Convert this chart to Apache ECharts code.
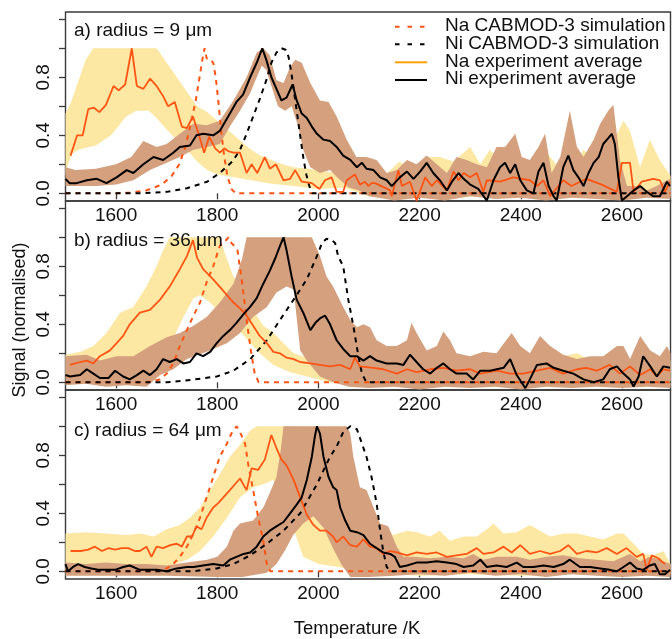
<!DOCTYPE html>
<html><head><meta charset="utf-8">
<script src="https://cdn.jsdelivr.net/npm/echarts@6/dist/echarts.min.js"></script>
<style>html,body{margin:0;padding:0;background:#fff}#c{width:672px;height:639px}</style>
</head><body><div id="c"></div>
<script>
// ---------- tick labels ----------
const xTicks = [1600, 1800, 2000, 2200, 2400, 2600];
const yTicks = [0, 0.2, 0.4, 0.6, 0.8, 1.0, 1.2];
const yLabels = [0, 0.4, 0.8];
const panelTitles = ["a) radius = 9 μm", "b) radius = 36 μm", "c) radius = 64 μm"];
const legendNames = ["Na CABMOD-3 simulation", "Ni CABMOD-3 simulation", "Na experiment average", "Ni experiment average"];

// ---------- panel a (9 µm) ----------
const naSimA = [[1500,0],[1600,0],[1630,0.005],[1660,0.02],[1690,0.06],[1710,0.12],[1725,0.2],[1737,0.32],[1747,0.47],[1757,0.63],[1765,0.8],[1771,0.93],[1775,1.0],[1779,0.93],[1785,0.93],[1792,0.9],[1797,0.8],[1802,0.64],[1808,0.42],[1814,0.25],[1820,0.12],[1828,0.03],[1836,0],[2696,0]];
const niSimA = [[1500,0],[1650,0],[1700,0.01],[1740,0.035],[1780,0.08],[1805,0.14],[1830,0.22],[1845,0.3],[1858,0.41],[1871,0.53],[1884,0.65],[1897,0.78],[1907,0.9],[1917,0.97],[1927,1.0],[1935,0.99],[1941,0.94],[1947,0.82],[1955,0.62],[1963,0.42],[1970,0.25],[1976,0.13],[1982,0.05],[1988,0],[2696,0]];
const naExpA = [[1510,0.26],[1523,0.40],[1534,0.40],[1545,0.58],[1556,0.59],[1567,0.56],[1580,0.61],[1595,0.74],[1605,0.71],[1618,0.75],[1631,1.0],[1641,0.74],[1654,0.72],[1667,0.79],[1680,0.74],[1693,0.67],[1703,0.6],[1716,0.63],[1730,0.46],[1740,0.45],[1752,0.53],[1763,0.41],[1774,0.28],[1784,0.39],[1796,0.31],[1805,0.28],[1814,0.31],[1822,0.29],[1832,0.28],[1845,0.28],[1858,0.14],[1868,0.2],[1879,0.14],[1894,0.25],[1904,0.17],[1916,0.2],[1931,0.09],[1944,0.1],[1954,0.16],[1967,0.08],[1987,0.07],[2002,0.03],[2013,0.09],[2026,0.11],[2036,0.01],[2049,0.01],[2056,0.09],[2072,0.13],[2082,0.06],[2092,0.08],[2099,0.05],[2105,0.07],[2112,0.07],[2142,0.02],[2145,-0.02],[2158,0.16],[2165,0.05],[2181,0.08],[2194,-0.05],[2211,0.11],[2224,0.05],[2234,0.09],[2254,0.02],[2267,0.15],[2277,0.09],[2287,0.14],[2300,0.11],[2313,0.14],[2326,0.01],[2333,0.09],[2359,0.08],[2385,0.11],[2418,0.09],[2432,0.05],[2445,0.09],[2458,-0.02],[2484,0.09],[2500,0.05],[2530,0.1],[2560,0.06],[2590,0.01],[2600,0.21],[2616,0.21],[2623,0.01],[2639,0.08],[2662,0.1],[2675,0.09],[2685,0.01],[2695,0.08]];
const niExpA = [[1500,0.1],[1508,0.07],[1522,0.07],[1542,0.09],[1562,0.1],[1581,0.07],[1601,0.11],[1621,0.16],[1634,0.14],[1654,0.2],[1674,0.25],[1693,0.23],[1713,0.28],[1726,0.32],[1746,0.33],[1759,0.4],[1772,0.41],[1792,0.4],[1805,0.43],[1825,0.55],[1838,0.63],[1851,0.68],[1865,0.8],[1878,0.9],[1889,1.0],[1897,0.92],[1907,0.8],[1917,0.72],[1927,0.64],[1937,0.66],[1949,0.75],[1957,0.64],[1967,0.55],[1977,0.52],[1987,0.46],[1997,0.41],[2010,0.37],[2023,0.36],[2036,0.32],[2049,0.26],[2063,0.23],[2076,0.18],[2086,0.21],[2095,0.17],[2109,0.16],[2122,0.11],[2135,0.09],[2145,0.05],[2161,0.11],[2175,0.15],[2188,0.1],[2201,0.15],[2214,0.21],[2227,0.14],[2240,0.09],[2254,0.02],[2264,0.08],[2277,0.14],[2287,0.1],[2300,0.06],[2316,0.03],[2333,-0.05],[2346,0.09],[2359,0.18],[2369,0.21],[2379,0.14],[2389,0.2],[2399,0.09],[2412,0.02],[2425,0],[2435,0.15],[2445,0.21],[2455,0.05],[2465,-0.02],[2471,-0.05],[2484,0.18],[2494,0.26],[2504,0.16],[2514,0.11],[2524,0.05],[2534,0.14],[2544,0.21],[2554,0.25],[2563,0.34],[2573,0.38],[2580,0.41],[2586,0.34],[2593,0.11],[2600,-0.05],[2610,-0.02],[2623,0.02],[2636,0.05],[2649,0.01],[2662,-0.02],[2675,-0.02],[2689,0.08],[2695,0.05]];
const naUpA = [[1500,0.55],[1510,0.62],[1520,0.72],[1540,0.92],[1555,1.0],[1680,1.0],[1690,0.95],[1700,0.9],[1720,0.8],[1740,0.7],[1760,0.6],[1780,0.56],[1800,0.5],[1820,0.44],[1840,0.38],[1860,0.32],[1880,0.27],[1900,0.24],[1920,0.21],[1950,0.18],[1980,0.17],[2010,0.15],[2040,0.14],[2060,0.18],[2080,0.12],[2100,0.2],[2130,0.12],[2160,0.22],[2190,0.15],[2210,0.25],[2240,0.25],[2267,0.22],[2300,0.32],[2320,0.2],[2339,0.3],[2360,0.22],[2379,0.25],[2400,0.18],[2418,0.14],[2451,0.28],[2470,0.2],[2484,0.23],[2505,0.18],[2524,0.3],[2540,0.25],[2557,0.34],[2575,0.3],[2603,0.5],[2616,0.43],[2636,0.18],[2655,0.37],[2675,0.23],[2696,0.12]];
const naLoA = [[1500,0.12],[1505,0.2],[1512,0.27],[1525,0.3],[1560,0.33],[1590,0.4],[1620,0.53],[1640,0.57],[1665,0.57],[1680,0.52],[1700,0.44],[1720,0.37],[1740,0.3],[1760,0.22],[1780,0.16],[1800,0.13],[1850,0.1],[1900,0.07],[1950,0.05],[2000,0.03],[2050,0.04],[2100,-0.02],[2200,-0.03],[2300,-0.02],[2400,-0.03],[2500,-0.01],[2600,-0.03],[2696,-0.02]];
const niUpA = [[1500,0.18],[1520,0.16],[1560,0.17],[1600,0.2],[1630,0.25],[1654,0.36],[1680,0.32],[1700,0.34],[1726,0.41],[1753,0.48],[1779,0.47],[1805,0.5],[1832,0.64],[1858,0.8],[1878,0.97],[1891,1.0],[1904,0.95],[1917,0.78],[1931,0.76],[1944,0.87],[1954,0.92],[1967,0.9],[1984,0.76],[2003,0.64],[2020,0.63],[2036,0.53],[2056,0.37],[2075,0.25],[2095,0.25],[2115,0.23],[2135,0.14],[2155,0.16],[2175,0.23],[2194,0.2],[2214,0.26],[2234,0.2],[2254,0.14],[2273,0.25],[2293,0.23],[2313,0.2],[2333,0.18],[2352,0.32],[2369,0.32],[2389,0.41],[2402,0.25],[2418,0.23],[2435,0.32],[2448,0.41],[2461,0.14],[2478,0.25],[2497,0.57],[2511,0.32],[2524,0.25],[2544,0.37],[2557,0.48],[2573,0.57],[2583,0.61],[2596,0.23],[2610,0.05],[2629,0.05],[2649,0.02],[2669,0.05],[2689,0.09],[2696,0.1]];
const niLoA = [[1500,0.05],[1560,0.05],[1600,0.06],[1634,0.09],[1667,0.16],[1700,0.21],[1726,0.25],[1753,0.3],[1779,0.32],[1805,0.34],[1825,0.46],[1845,0.57],[1865,0.69],[1878,0.8],[1888,0.88],[1897,0.85],[1907,0.74],[1920,0.6],[1934,0.57],[1947,0.6],[1960,0.46],[1970,0.3],[1984,0.18],[2003,0.14],[2023,0.16],[2040,0.1],[2060,0.04],[2080,0.02],[2100,-0.02],[2150,-0.05],[2200,-0.03],[2250,-0.05],[2300,-0.02],[2350,-0.04],[2400,-0.03],[2450,-0.05],[2500,-0.03],[2550,-0.04],[2600,-0.05],[2650,-0.03],[2696,-0.04]];

// ---------- panel b (36 µm) ----------
const naSimB = [[1500,0],[1660,0],[1687,0.02],[1700,0.06],[1713,0.13],[1726,0.25],[1740,0.36],[1753,0.46],[1766,0.55],[1779,0.69],[1792,0.8],[1805,0.94],[1815,0.97],[1822,1.0],[1828,0.96],[1834,0.94],[1840,0.91],[1849,0.69],[1858,0.43],[1866,0.23],[1874,0.06],[1882,0],[2696,0]];
const niSimB = [[1500,0],[1700,0],[1733,0.01],[1799,0.04],[1832,0.08],[1865,0.16],[1898,0.29],[1924,0.43],[1951,0.57],[1977,0.71],[1997,0.87],[2007,0.96],[2016,0.99],[2026,0.98],[2033,0.96],[2039,0.87],[2049,0.8],[2059,0.57],[2069,0.39],[2079,0.18],[2086,0.06],[2095,0],[2696,0]];
const naExpB = [[1509,0.12],[1529,0.14],[1542,0.15],[1555,0.13],[1568,0.18],[1588,0.22],[1601,0.27],[1614,0.32],[1627,0.4],[1647,0.48],[1667,0.5],[1687,0.57],[1706,0.66],[1726,0.78],[1740,0.87],[1752,0.98],[1760,0.86],[1772,0.78],[1792,0.71],[1812,0.63],[1832,0.55],[1845,0.51],[1858,0.46],[1871,0.39],[1884,0.32],[1898,0.27],[1911,0.21],[1924,0.2],[1937,0.17],[1951,0.16],[1964,0.14],[1984,0.13],[2003,0.12],[2023,0.11],[2043,0.12],[2063,0.09],[2072,0.17],[2082,0.11],[2109,0.1],[2128,0.09],[2155,0.06],[2175,0.09],[2194,0.07],[2221,0.09],[2247,0.1],[2273,0.08],[2300,0.09],[2320,0.06],[2353,0.08],[2379,0.06],[2405,0.06],[2432,0.08],[2458,0.1],[2484,0.06],[2511,0.09],[2530,0.1],[2550,0.08],[2576,0.12],[2596,0.06],[2616,0.11],[2636,0.05],[2656,0.09],[2669,0.04],[2682,0.09],[2695,0.08]];
const niExpB = [[1500,0.05],[1509,0.04],[1529,0.05],[1542,0.09],[1555,0.06],[1568,0.03],[1585,0.03],[1598,0.08],[1614,0.04],[1627,0.02],[1641,0.05],[1654,0.08],[1667,0.05],[1680,0.09],[1693,0.16],[1706,0.14],[1720,0.16],[1733,0.13],[1746,0.14],[1759,0.2],[1772,0.18],[1786,0.21],[1799,0.27],[1812,0.32],[1825,0.36],[1838,0.41],[1852,0.47],[1865,0.52],[1878,0.58],[1891,0.68],[1904,0.77],[1914,0.85],[1924,0.94],[1931,1.0],[1937,0.91],[1947,0.73],[1957,0.57],[1970,0.48],[1984,0.36],[1994,0.41],[2003,0.44],[2013,0.46],[2023,0.4],[2036,0.29],[2049,0.23],[2063,0.18],[2076,0.18],[2089,0.15],[2102,0.18],[2115,0.15],[2135,0.13],[2155,0.13],[2168,0.12],[2181,0.19],[2194,0.14],[2207,0.09],[2221,0.06],[2234,0.1],[2247,0.13],[2260,0.09],[2273,0.06],[2293,0.06],[2306,0.02],[2320,0.08],[2339,0.08],[2366,0.1],[2379,0.16],[2392,0.05],[2409,-0.04],[2418,0.02],[2432,0.12],[2451,0.13],[2465,0.1],[2484,0.08],[2504,0.06],[2524,0.02],[2544,0],[2563,0.02],[2576,0.09],[2590,0.11],[2603,0.06],[2616,0.02],[2623,-0.03],[2633,0.04],[2642,0.18],[2656,0.11],[2669,0.04],[2682,0.11],[2695,0.1]];
const naUpB = [[1500,0.19],[1530,0.21],[1555,0.25],[1581,0.34],[1608,0.48],[1634,0.52],[1660,0.66],[1680,0.8],[1693,0.91],[1706,1.0],[1805,1.0],[1819,0.85],[1832,0.73],[1852,0.62],[1871,0.5],[1891,0.39],[1911,0.34],[1931,0.27],[1951,0.2],[1970,0.18],[1997,0.15],[2023,0.15],[2060,0.12],[2100,0.12],[2150,0.14],[2200,0.12],[2250,0.15],[2300,0.18],[2330,0.2],[2360,0.15],[2400,0.12],[2450,0.14],[2484,0.18],[2511,0.2],[2540,0.15],[2580,0.12],[2603,0.15],[2620,0.13],[2650,0.12],[2682,0.18],[2696,0.15]];
const naLoB = [[1500,0.05],[1540,0.07],[1568,0.1],[1608,0.12],[1634,0.18],[1667,0.2],[1693,0.23],[1713,0.3],[1733,0.45],[1753,0.58],[1766,0.6],[1786,0.55],[1805,0.48],[1832,0.4],[1858,0.3],[1884,0.2],[1911,0.12],[1944,0.07],[1977,0.04],[2023,0.0],[2100,-0.02],[2200,-0.03],[2300,-0.02],[2400,-0.03],[2500,-0.02],[2600,-0.03],[2696,-0.02]];
const niUpB = [[1500,0.18],[1542,0.19],[1568,0.15],[1601,0.18],[1634,0.18],[1667,0.25],[1700,0.31],[1726,0.34],[1753,0.39],[1779,0.45],[1805,0.55],[1832,0.68],[1849,0.85],[1858,1.0],[1987,1.0],[2003,0.87],[2016,0.73],[2029,0.66],[2049,0.52],[2063,0.43],[2076,0.38],[2089,0.4],[2102,0.38],[2115,0.29],[2135,0.25],[2155,0.25],[2175,0.29],[2184,0.41],[2194,0.34],[2214,0.22],[2234,0.25],[2247,0.35],[2260,0.29],[2273,0.2],[2300,0.18],[2326,0.21],[2352,0.2],[2382,0.34],[2399,0.25],[2418,0.2],[2438,0.32],[2458,0.25],[2484,0.19],[2511,0.16],[2537,0.18],[2563,0.18],[2590,0.25],[2603,0.25],[2616,0.16],[2636,0.32],[2656,0.22],[2675,0.18],[2689,0.25],[2696,0.2]];
const niLoB = [[1500,-0.02],[1540,-0.01],[1580,-0.03],[1620,-0.02],[1660,-0.03],[1687,0.05],[1713,0.09],[1740,0.16],[1779,0.21],[1819,0.27],[1845,0.34],[1871,0.45],[1898,0.52],[1917,0.62],[1937,0.66],[1951,0.64],[1964,0.22],[1977,0.15],[2003,0.04],[2029,0.0],[2060,-0.03],[2100,-0.04],[2150,-0.03],[2200,-0.05],[2250,-0.03],[2300,-0.04],[2350,-0.03],[2400,-0.05],[2450,-0.03],[2500,-0.04],[2550,-0.03],[2600,-0.04],[2650,-0.03],[2696,-0.04]];

// ---------- panel c (64 µm) ----------
const naSimC = [[1500,0],[1680,0],[1700,0.02],[1713,0.05],[1726,0.1],[1740,0.17],[1753,0.26],[1766,0.37],[1779,0.51],[1792,0.65],[1805,0.79],[1819,0.88],[1828,0.95],[1838,1.0],[1845,0.96],[1855,0.88],[1862,0.72],[1871,0.56],[1881,0.37],[1891,0.21],[1898,0.05],[1905,0],[2696,0]];
const niSimC = [[1500,0],[1750,0],[1799,0.02],[1832,0.05],[1865,0.11],[1898,0.19],[1931,0.28],[1964,0.4],[1997,0.6],[2023,0.79],[2036,0.86],[2049,0.96],[2063,1.0],[2076,0.98],[2086,0.88],[2095,0.79],[2105,0.65],[2115,0.47],[2122,0.28],[2128,0.14],[2135,0.03],[2142,0],[2696,0]];
const naExpC = [[1510,0.14],[1530,0.14],[1545,0.15],[1558,0.17],[1572,0.14],[1585,0.16],[1598,0.15],[1611,0.16],[1624,0.16],[1637,0.14],[1647,0.14],[1660,0.17],[1670,0.1],[1680,0.17],[1693,0.16],[1707,0.18],[1720,0.19],[1730,0.17],[1740,0.24],[1750,0.24],[1759,0.31],[1769,0.29],[1779,0.37],[1792,0.44],[1802,0.47],[1812,0.51],[1825,0.56],[1835,0.6],[1845,0.64],[1858,0.56],[1868,0.71],[1881,0.7],[1894,0.77],[1907,0.94],[1917,0.85],[1927,0.77],[1937,0.73],[1951,0.63],[1964,0.51],[1977,0.39],[1990,0.32],[2003,0.28],[2016,0.28],[2029,0.24],[2036,0.2],[2049,0.24],[2063,0.18],[2076,0.17],[2089,0.22],[2102,0.17],[2115,0.16],[2128,0.12],[2142,0.14],[2155,0.13],[2175,0.11],[2194,0.13],[2214,0.12],[2234,0.13],[2254,0.1],[2273,0.11],[2293,0.12],[2313,0.16],[2326,0.12],[2346,0.13],[2366,0.17],[2382,0.13],[2399,0.18],[2418,0.12],[2438,0.14],[2458,0.12],[2478,0.14],[2494,0.18],[2511,0.12],[2530,0.14],[2550,0.13],[2570,0.16],[2590,0.12],[2609,0.16],[2629,0.1],[2642,0.12],[2649,0.01],[2659,0.11],[2672,0.09],[2685,0.05]];
const niExpC = [[1500,0.05],[1505,0.0],[1515,0.03],[1525,0.05],[1538,0.03],[1551,0.02],[1567,0.01],[1581,0.01],[1598,0.01],[1614,0.03],[1627,0.04],[1647,0.01],[1660,0.01],[1680,0.01],[1700,0.0],[1720,0.02],[1740,0.03],[1753,0.03],[1772,0.04],[1792,0.05],[1812,0.04],[1825,0.08],[1838,0.1],[1852,0.12],[1865,0.13],[1878,0.17],[1891,0.24],[1904,0.28],[1917,0.31],[1931,0.34],[1944,0.4],[1957,0.46],[1967,0.51],[1977,0.63],[1987,0.79],[1993,0.93],[1997,1.0],[2003,0.95],[2010,0.79],[2020,0.65],[2029,0.58],[2036,0.56],[2043,0.44],[2053,0.35],[2063,0.28],[2076,0.27],[2089,0.25],[2102,0.19],[2115,0.16],[2128,0.13],[2142,0.12],[2151,0.1],[2161,0.03],[2175,0.04],[2194,0.06],[2214,0.06],[2234,0.07],[2254,0.06],[2273,0.05],[2287,0.03],[2306,0.04],[2320,0.08],[2333,0.03],[2352,0.04],[2372,0.03],[2392,0.06],[2405,0.03],[2425,0.03],[2445,0.04],[2465,0.03],[2484,0.05],[2497,0.08],[2517,0.03],[2537,0.03],[2557,0.02],[2576,0.01],[2590,0.0],[2603,0.03],[2616,0.06],[2629,0.02],[2642,0.01],[2655,0.04],[2665,0.05],[2675,-0.02],[2685,-0.02],[2695,0.01]];
const naUpC = [[1500,0.26],[1540,0.27],[1581,0.26],[1621,0.25],[1647,0.26],[1674,0.24],[1700,0.29],[1726,0.32],[1746,0.37],[1766,0.44],[1786,0.56],[1805,0.67],[1825,0.79],[1845,0.87],[1865,0.97],[1878,1.0],[1960,1.0],[1980,0.7],[2000,0.5],[2030,0.4],[2060,0.36],[2100,0.33],[2130,0.3],[2148,0.25],[2175,0.28],[2194,0.27],[2221,0.24],[2240,0.28],[2260,0.21],[2287,0.24],[2313,0.24],[2333,0.29],[2346,0.33],[2366,0.26],[2392,0.27],[2418,0.32],[2438,0.28],[2458,0.24],[2484,0.26],[2511,0.26],[2537,0.24],[2563,0.22],[2590,0.26],[2603,0.26],[2623,0.19],[2642,0.12],[2662,0.11],[2682,0.14],[2696,0.05]];
const naLoC = [[1500,0.01],[1600,0.01],[1700,0.03],[1740,0.08],[1766,0.14],[1792,0.24],[1819,0.37],[1845,0.51],[1871,0.58],[1891,0.6],[1911,0.63],[1930,0.5],[1950,0.3],[1970,0.1],[2000,0.05],[2040,0.03],[2080,0.0],[2150,-0.02],[2200,-0.03],[2300,-0.02],[2400,-0.03],[2500,-0.02],[2600,-0.03],[2696,-0.02]];
const niUpC = [[1500,0.06],[1540,0.05],[1580,0.06],[1620,0.05],[1660,0.05],[1700,0.04],[1740,0.06],[1780,0.08],[1800,0.1],[1819,0.17],[1832,0.28],[1845,0.33],[1871,0.35],[1891,0.44],[1905,0.55],[1917,0.65],[1926,0.85],[1931,1.0],[2056,1.0],[2063,0.95],[2069,0.79],[2082,0.58],[2095,0.56],[2109,0.44],[2122,0.33],[2138,0.31],[2155,0.17],[2168,0.1],[2188,0.1],[2221,0.09],[2254,0.1],[2287,0.09],[2306,0.12],[2326,0.08],[2352,0.1],[2392,0.1],[2418,0.08],[2451,0.1],[2484,0.11],[2517,0.09],[2550,0.08],[2583,0.07],[2603,0.1],[2616,0.12],[2636,0.07],[2655,0.1],[2675,0.08],[2696,0.05]];
const niLoC = [[1500,-0.03],[1600,-0.03],[1700,-0.03],[1800,-0.04],[1850,-0.04],[1898,-0.01],[1917,0.05],[1935,0.15],[1950,0.25],[1970,0.33],[1990,0.38],[2010,0.3],[2030,0.15],[2045,0.05],[2063,-0.04],[2100,-0.04],[2150,-0.03],[2200,-0.02],[2250,-0.03],[2300,-0.01],[2350,-0.03],[2400,-0.02],[2450,-0.04],[2500,-0.02],[2550,-0.03],[2600,-0.04],[2650,-0.03],[2696,-0.04]];

// ---------- styling ----------
const FONT = "'Liberation Sans', Arial, Helvetica, sans-serif";
const C_NA = '#FF5514', C_NA_LEG = '#FFA000', C_NI = '#000000';
const C_YEL = '#FCE8A3', C_BRN = '#D4A07E', C_BOX = '#3a3a3a', C_TXT = '#111';
const panels = [
  {top: 12,  naSim: naSimA, niSim: niSimA, naExp: naExpA, niExp: niExpA, naUp: naUpA, naLo: naLoA, niUp: niUpA, niLo: niLoA, labelY: 32},
  {top: 201, naSim: naSimB, niSim: niSimB, naExp: naExpB, niExp: niExpB, naUp: naUpB, naLo: naLoB, niUp: niUpB, niLo: niLoB, labelY: 242},
  {top: 390, naSim: naSimC, niSim: niSimC, naExp: naExpC, niExp: niExpC, naUp: naUpC, naLo: naLoC, niUp: niUpC, niLo: niLoC, labelY: 432}
];
const GL = 65.5, GW = 605, GH = 189;

function band(idx, up, lo, color, z) {
  const poly = up.concat(lo.slice().reverse());
  return {
    type: 'custom', xAxisIndex: idx, yAxisIndex: idx, z: z, silent: true,
    data: poly,
    renderItem: function (params, api) {
      if (params.dataIndex !== 0) return null;
      const pts = poly.map(p => api.coord(p));
      return {type: 'polygon', shape: {points: pts}, style: {fill: color, stroke: null}};
    }
  };
}
function line(idx, data, color, width, dashed, z) {
  return {
    type: 'line', xAxisIndex: idx, yAxisIndex: idx, data: data, z: z,
    showSymbol: false, symbol: 'none', silent: true,
    lineStyle: {color: color, width: width, type: dashed ? [5, 5] : 'solid'}
  };
}

const grids = [], xAxes = [], yAxes = [], series = [], graphics = [];
panels.forEach((p, i) => {
  grids.push({left: GL, top: p.top, width: GW, height: GH, show: true, borderColor: C_BOX, borderWidth: 1.4, backgroundColor: 'transparent', containLabel: false});
  xAxes.push({
    type: 'value', gridIndex: i, min: 1500, max: 2696,
    axisLine: {show: false}, splitLine: {show: false},
    axisTick: {show: true, customValues: xTicks, length: 6, lineStyle: {color: C_BOX, width: 1.3}},
    axisLabel: {show: true, customValues: xTicks, fontSize: 19, color: C_TXT, fontFamily: FONT, margin: 5,
      formatter: v => String(Math.round(v))}
  });
  yAxes.push({
    type: 'value', gridIndex: i, min: -0.053, max: 1.25,
    axisLine: {show: false}, splitLine: {show: false},
    axisTick: {show: true, customValues: yTicks, length: 6.5, lineStyle: {color: C_BOX, width: 1.3}},
    axisLabel: {show: true, customValues: yLabels, rotate: 90, fontSize: 19, color: C_TXT, fontFamily: FONT, margin: 12,
      formatter: v => Number(v).toFixed(1)}
  });
  series.push(band(i, p.naUp, p.naLo, C_YEL, 1));
  series.push(band(i, p.niUp, p.niLo, C_BRN, 2));
  series.push(line(i, p.naSim, C_NA, 2, true, 3));
  series.push(line(i, p.niSim, C_NI, 2, true, 3));
  series.push(line(i, p.naExp, C_NA, 1.8, false, 4));
  series.push(line(i, p.niExp, C_NI, 2, false, 5));
  graphics.push({type: 'text', left: 74, top: p.labelY - 11, z: 10,
    style: {text: panelTitles[i], fontSize: 19, fontFamily: FONT, fill: C_TXT}});
});

// legend (panel a)
const legColors = [C_NA, C_NI, C_NA_LEG, C_NI];
const legDash = [true, true, false, false];
const legY = [26.7, 44.3, 62.3, 80];
legendNames.forEach((name, k) => {
  graphics.push({type: 'line', z: 10, shape: {x1: 395, y1: legY[k], x2: 427, y2: legY[k]},
    style: {stroke: legColors[k], lineWidth: 2, lineDash: legDash[k] ? [4.5, 8] : null}});
  graphics.push({type: 'text', z: 10, left: 445, top: legY[k] - 10.5,
    style: {text: name, fontSize: 19, fontFamily: FONT, fill: C_TXT}});
});
// axis titles
graphics.push({type: 'text', z: 10, x: 20, y: 320, rotation: Math.PI / 2,
  style: {text: 'Signal (normalised)', fontSize: 18, fontFamily: FONT, fill: C_TXT, align: 'center', verticalAlign: 'middle'}});
graphics.push({type: 'text', z: 10, x: 357, y: 629,
  style: {text: 'Temperature /K', fontSize: 18.5, fontFamily: FONT, fill: C_TXT, align: 'center', verticalAlign: 'middle'}});

const chart = echarts.init(document.getElementById('c'), null, {renderer: 'canvas'});
chart.setOption({
  animation: false, backgroundColor: '#ffffff',
  grid: grids, xAxis: xAxes, yAxis: yAxes, series: series, graphic: graphics
});
</script></body></html>
